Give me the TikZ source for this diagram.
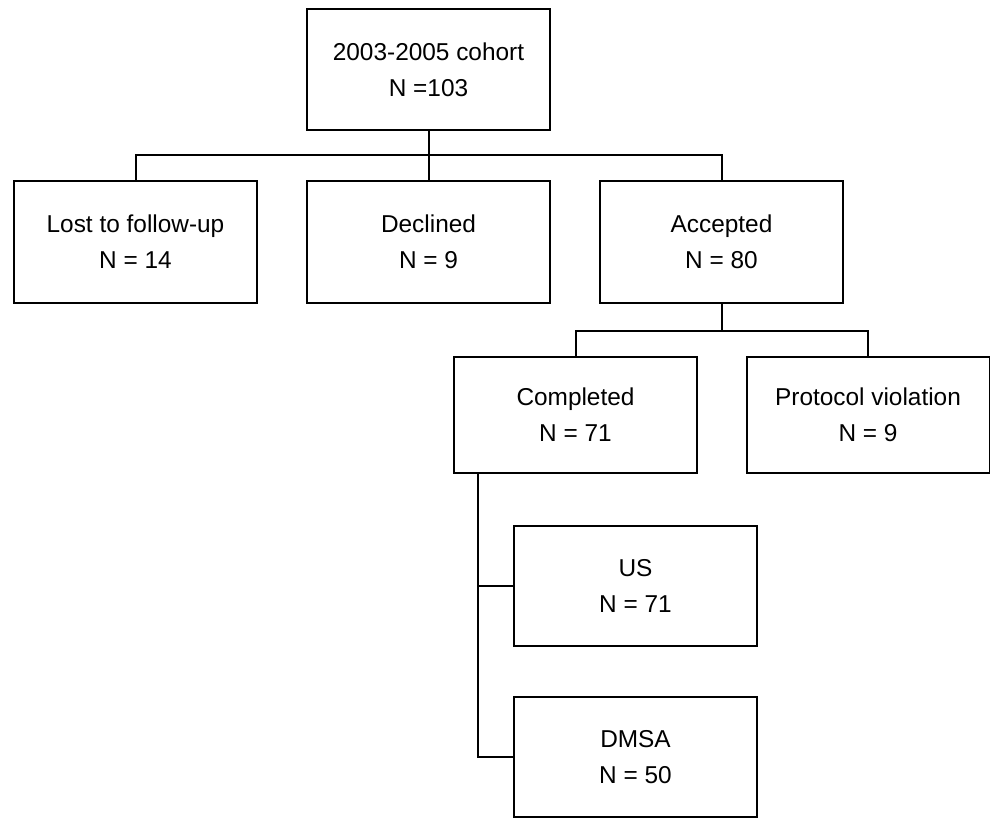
\documentclass[tikz,border=0pt]{standalone}
\usepackage{fontspec}
\setmainfont{Liberation Sans}
\usepackage{tikz}

\tikzset{
  flowbox/.style={draw, line width=1pt, align=center, minimum width=121.5pt,
    minimum height=60.5pt, inner sep=0pt,
    font=\fontsize{12.2}{18}\selectfont},
  link/.style={line width=1pt},
}

\begin{document}
\begin{tikzpicture}[x=0.5pt,y=-0.5pt]
        \useasboundingbox (0,0) rectangle (990,818);

        \node[flowbox] (cohort) at (428.5,69.5) {2003-2005 cohort\\N =103};

        \node[flowbox] (lost) at (135.5,242) {Lost to follow-up\\N = 14};
        \node[flowbox] (declined) at (428.5,242) {Declined\\N = 9};
        \node[flowbox] (accepted) at (721.5,242) {Accepted\\N = 80};

        \node[flowbox, minimum height=58pt] (completed) at (575.5,415) {Completed\\N = 71};
        \node[flowbox, minimum height=58pt] (protocol) at (868,415) {Protocol violation\\N = 9};

        \node[flowbox, minimum height=60pt] (us) at (635.5,586) {US\\N = 71};
        \node[flowbox, minimum height=60pt] (dmsa) at (635.5,757) {DMSA\\N = 50};

        \coordinate (bus1) at (428.5,155.5);
        \coordinate (bus2) at (721.5,331);
        \coordinate (trunk) at (478,473);

        \draw[link] (cohort.south) -- (declined.north);
        \draw[link] (lost.north) |- (bus1) -| (accepted.north);

        \draw[link] (accepted.south) -- (bus2);
        \draw[link] (completed.north) |- (bus2) -| (protocol.north);

        \draw[link] (trunk) |- (dmsa.west);
        \draw[link] (us.west) -- (us.west -| trunk);
    \end{tikzpicture}
\end{document}
